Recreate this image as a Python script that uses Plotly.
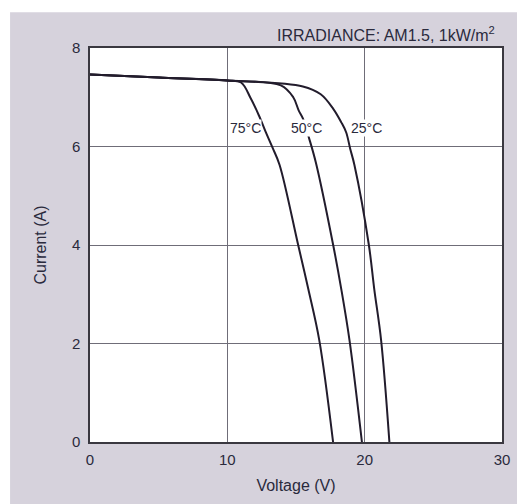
import plotly.graph_objects as go

# Data (Voltage V, Current A)
v_75 = [0, 5, 10.0, 11.0, 11.7, 12.3, 12.8, 13.3, 13.8, 15.15, 15.9, 16.7, 17.7]
i_75 = [7.46, 7.40, 7.34, 7.30, 6.98, 6.63, 6.29, 5.97, 5.63, 4.01, 3.10, 2.06, 0]

v_50 = [0, 5, 10.0, 13.9, 14.8, 15.2, 15.5, 15.95, 16.45, 17.7, 18.3, 18.9, 19.8]
i_50 = [7.46, 7.40, 7.34, 7.24, 7.00, 6.73, 6.57, 6.17, 5.67, 4.01, 3.10, 2.06, 0]

v_25 = [0, 5, 10.0, 15.5, 16.8, 17.7, 18.3, 18.65, 18.95, 19.25, 20.3, 20.7, 21.2, 21.8]
i_25 = [7.46, 7.40, 7.34, 7.22, 7.06, 6.77, 6.49, 6.29, 5.95, 5.63, 4.01, 3.10, 2.06, 0]

labels = ["75°C", "50°C", "25°C"]
label_v = [11.3, 15.75, 20.1]
label_i = [6.38, 6.38, 6.38]

x_ticks = [0, 10, 20, 30]
y_ticks = [0, 2, 4, 6, 8]

curve_color = "#221c2c"
grid_color = "#6f6d78"
text_color = "#2a2a3c"
font_family = "Liberation Sans, Arial, sans-serif"

fig = go.Figure()
for v, i, name in [(v_75, i_75, labels[0]), (v_50, i_50, labels[1]), (v_25, i_25, labels[2])]:
    fig.add_trace(go.Scatter(
        x=v, y=i, mode="lines", name=name,
        line=dict(color=curve_color, width=2, shape="spline", smoothing=1.0),
        showlegend=False, hoverinfo="skip",
    ))

# panel background and white plot area (page body has an 8px margin)
fig.add_shape(type="rect", xref="paper", yref="paper",
              x0=-0.194, x1=1.044, y0=-0.17, y1=1.091,
              fillcolor="#d6d2dc", line=dict(width=0), layer="below")
fig.add_shape(type="rect", xref="paper", yref="paper",
              x0=0, x1=1, y0=0, y1=1,
              fillcolor="white", line=dict(width=0), layer="below")

for t, vx, iy in zip(labels, label_v, label_i):
    fig.add_annotation(x=vx, y=iy, text=t, showarrow=False,
                       font=dict(family=font_family, size=14, color=text_color),
                       bgcolor="white", borderpad=0)

fig.add_annotation(xref="paper", yref="paper", x=0.988, y=1.0,
                   xanchor="right", yanchor="bottom", yshift=2,
                   text="IRRADIANCE: AM1.5, 1kW/m<sup>2</sup>", showarrow=False,
                   font=dict(family=font_family, size=16, color=text_color))

fig.update_xaxes(range=[0, 30], tickvals=x_ticks, ticktext=[str(t) for t in x_ticks],
                 showgrid=True, gridcolor=grid_color, gridwidth=1,
                 showline=True, linecolor="#3a3840", linewidth=1.5, mirror=True,
                 zeroline=False, ticks="", ticklabelstandoff=3,
                 tickfont=dict(family=font_family, size=15, color=text_color),
                 title=dict(text="Voltage (V)", standoff=13,
                            font=dict(family=font_family, size=16, color=text_color)))
fig.update_yaxes(range=[0, 8], tickvals=y_ticks, ticktext=[str(t) for t in y_ticks],
                 showgrid=True, gridcolor=grid_color, gridwidth=1,
                 showline=True, linecolor="#3a3840", linewidth=1.5, mirror=True,
                 zeroline=False, ticks="", ticklabelstandoff=5,
                 tickfont=dict(family=font_family, size=15, color=text_color),
                 title=dict(text="Current (A)", standoff=21,
                            font=dict(family=font_family, size=16, color=text_color)))

fig.update_layout(width=517, height=496,
                  margin=dict(l=82, r=23, t=40, b=60),
                  paper_bgcolor="white", plot_bgcolor="rgba(0,0,0,0)")

fig.write_html("out.html")
